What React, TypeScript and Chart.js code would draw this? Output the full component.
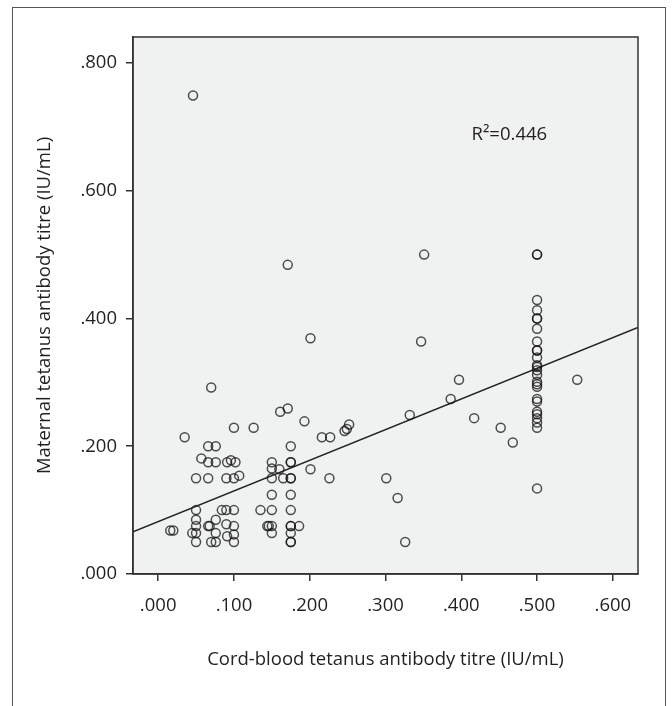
import { useEffect, useRef } from 'react';
import { Chart, registerables } from 'chart.js';

Chart.register(...registerables);

// cord-blood titre (x) and maternal titre (y), IU/mL
const cordTitre = [
  0.016, 0.020, 0.035, 0.046, 0.045,
  0.05, 0.05, 0.05, 0.05, 0.05, 0.05, 0.057,
  0.066, 0.076, 0.066, 0.076, 0.066, 0.066, 0.068, 0.070, 0.076, 0.076, 0.070, 0.076,
  0.084, 0.090, 0.1, 0.091, 0.096, 0.102, 0.090, 0.1, 0.107, 0.090, 0.1, 0.091, 0.1, 0.1,
  0.1, 0.126, 0.135,
  0.144, 0.146, 0.15, 0.15, 0.15, 0.15, 0.15, 0.15, 0.15, 0.160, 0.165, 0.161, 0.171, 0.171,
  0.175, 0.175, 0.175, 0.175, 0.175, 0.175, 0.175, 0.175, 0.175, 0.175, 0.175, 0.175,
  0.186, 0.193, 0.201, 0.201, 0.216, 0.227, 0.226, 0.246, 0.249, 0.252,
  0.301, 0.316, 0.326, 0.332, 0.347, 0.351, 0.386, 0.397, 0.417, 0.452, 0.468, 0.553,
  0.5, 0.5, 0.5, 0.5, 0.5, 0.5, 0.5, 0.5, 0.5, 0.5, 0.5, 0.5, 0.5,
  0.5, 0.5, 0.5, 0.5, 0.5, 0.5, 0.5, 0.5, 0.5, 0.5, 0.5, 0.5, 0.5,
];
const maternalTitre = [
  0.068, 0.068, 0.214, 0.749, 0.064,
  0.15, 0.1, 0.085, 0.075, 0.064, 0.05, 0.181,
  0.2, 0.2, 0.175, 0.175, 0.15, 0.075, 0.075, 0.292, 0.085, 0.064, 0.05, 0.05,
  0.1, 0.1, 0.1, 0.175, 0.178, 0.175, 0.15, 0.15, 0.154, 0.078, 0.075, 0.059, 0.062, 0.05,
  0.229, 0.229, 0.1,
  0.075, 0.075, 0.075, 0.064, 0.1, 0.124, 0.15, 0.175, 0.165, 0.164, 0.15, 0.254, 0.259, 0.484,
  0.2, 0.175, 0.175, 0.15, 0.15, 0.124, 0.1, 0.075, 0.075, 0.064, 0.05, 0.05,
  0.075, 0.239, 0.164, 0.369, 0.214, 0.214, 0.15, 0.224, 0.227, 0.234,
  0.15, 0.119, 0.05, 0.249, 0.364, 0.5, 0.274, 0.304, 0.244, 0.229, 0.206, 0.304,
  0.5, 0.5, 0.429, 0.413, 0.4, 0.4, 0.384, 0.364, 0.35, 0.35, 0.339, 0.327, 0.324,
  0.319, 0.312, 0.301, 0.297, 0.293, 0.274, 0.27, 0.254, 0.25, 0.244, 0.237, 0.229, 0.134,
];

const xTicks = [0, 0.1, 0.2, 0.3, 0.4, 0.5, 0.6];
const yTicks = [0, 0.2, 0.4, 0.6, 0.8];

// least-squares fit shown on the plot
const fitIntercept = 0.082;
const fitSlope = 0.48;
const rSquaredLabel = 'R²=0.446';
const rSquaredAt = { x: 0.4135, y: 0.687 };

const X_MIN = -0.0332;
const X_MAX = 0.6332;
const Y_MIN = 0;
const Y_MAX = 0.8407;

const FONT = "'Open Sans', sans-serif";
const INK = '#231f20';
const AXIS = '#333';

const fmt = (v: number | string) => Number(v).toFixed(3).replace(/^0/, '');

const plotFrame = {
  id: 'plotFrame',
  beforeDraw(chart: Chart) {
    const { ctx, chartArea: a } = chart;
    ctx.save();
    ctx.fillStyle = '#f0f1f1';
    ctx.fillRect(a.left, a.top, a.width, a.height);
    ctx.restore();
  },
  afterDatasetsDraw(chart: Chart) {
    const { ctx, chartArea: a, scales } = chart;
    ctx.save();
    ctx.strokeStyle = AXIS;
    ctx.lineWidth = 1.5;
    ctx.strokeRect(a.left, a.top, a.width, a.height);
    ctx.fillStyle = INK;
    ctx.font = `18.5px ${FONT}`;
    ctx.textAlign = 'left';
    ctx.textBaseline = 'middle';
    ctx.fillText(rSquaredLabel, scales.x.getPixelForValue(rSquaredAt.x), scales.y.getPixelForValue(rSquaredAt.y));
    ctx.restore();
  },
};

export default function App() {
  const canvasRef = useRef<HTMLCanvasElement>(null);

  useEffect(() => {
    document.body.style.margin = '0';
    if (!canvasRef.current) return;

    const points = cordTitre.map((x, i) => ({ x, y: maternalTitre[i] }));
    const fit = [X_MIN, X_MAX].map(x => ({ x, y: fitIntercept + fitSlope * x }));
    const font = { family: FONT, size: 18.5 };

    const chart = new Chart(canvasRef.current, {
      type: 'scatter',
      data: {
        datasets: [
          {
            data: points,
            pointRadius: 4.5,
            pointBorderWidth: 1.5,
            pointBorderColor: 'rgba(20,20,20,0.75)',
            pointBackgroundColor: 'rgba(0,0,0,0)',
          },
          {
            data: fit,
            showLine: true,
            pointRadius: 0,
            borderColor: '#222',
            borderWidth: 1.5,
          },
        ],
      },
      options: {
        responsive: false,
        animation: false,
        layout: { padding: { left: 0, right: 34, top: 37, bottom: 0 } },
        plugins: { legend: { display: false }, tooltip: { enabled: false } },
        scales: {
          x: {
            type: 'linear',
            min: X_MIN,
            max: X_MAX,
            afterBuildTicks: s => { s.ticks = xTicks.map(value => ({ value })); },
            afterFit: s => { s.height = 132; },
            grid: { drawOnChartArea: false, tickLength: 7, color: AXIS, tickColor: AXIS, lineWidth: 1.5 },
            border: { display: true, color: AXIS, width: 1.5 },
            ticks: { callback: fmt, color: INK, font, padding: 14, maxRotation: 0, autoSkip: false },
            title: {
              display: true,
              text: 'Cord-blood tetanus antibody titre (IU/mL)',
              color: INK,
              font,
              padding: { top: 0, bottom: 35 },
            },
          },
          y: {
            type: 'linear',
            min: Y_MIN,
            max: Y_MAX,
            afterBuildTicks: s => { s.ticks = yTicks.map(value => ({ value })); },
            afterFit: s => { s.width = 133; },
            grid: { drawOnChartArea: false, tickLength: 7, color: AXIS, tickColor: AXIS, lineWidth: 1.5 },
            border: { display: true, color: AXIS, width: 1.5 },
            ticks: { callback: fmt, color: INK, font, padding: 9, autoSkip: false },
            title: {
              display: true,
              text: 'Maternal tetanus antibody titre (IU/mL)',
              color: INK,
              font,
              padding: { top: 34, bottom: 0 },
            },
          },
        },
      },
      plugins: [plotFrame],
    });

    return () => { chart.destroy(); };
  }, []);

  return (
    <div style={{ position: 'relative', width: 672, height: 706, background: '#fff', overflow: 'hidden' }}>
      <div
        style={{
          position: 'absolute', left: 12, top: 7, width: 654, height: 740,
          border: '1.5px solid #555', boxSizing: 'border-box',
        }}
      />
      <canvas
        ref={canvasRef}
        width={672}
        height={706}
        style={{ position: 'absolute', left: 0, top: 0, width: 672, height: 706 }}
      />
    </div>
  );
}
